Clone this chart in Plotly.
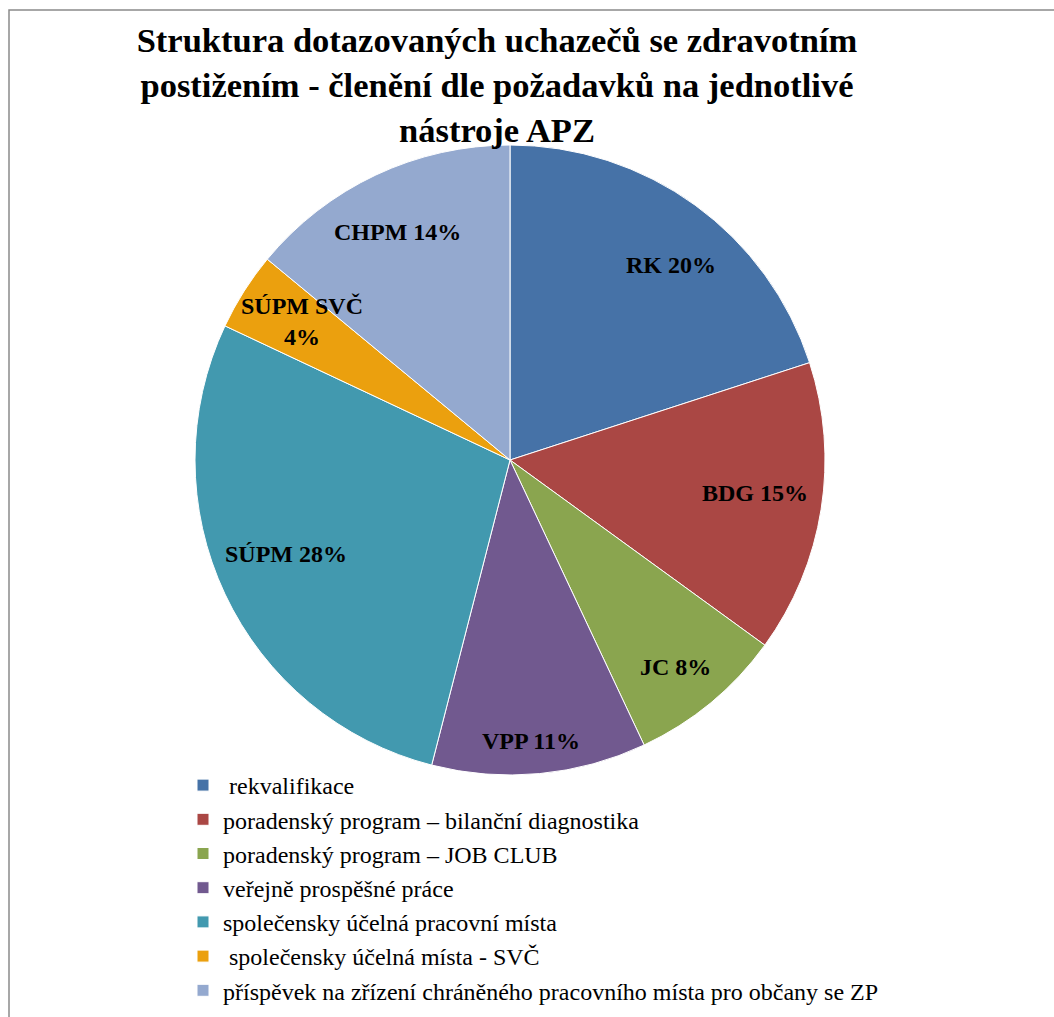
import math
import plotly.graph_objects as go

# Legend categories (full names) and short slice labels
categories = [
    "\u00a0rekvalifikace",
    "poradenský program – bilanční diagnostika",
    "poradenský program – JOB CLUB",
    "veřejně prospěšné práce",
    "společensky účelná pracovní místa",
    "\u00a0společensky účelná místa - SVČ",
    "příspěvek na zřízení chráněného pracovního místa pro občany se ZP",
]
short_labels = ["RK", "BDG", "JC", "VPP", "SÚPM", "SÚPM SVČ", "CHPM"]
shares = [20, 15, 8, 11, 28, 4, 14]

colors = ["#4672A7", "#AA4744", "#8AA54F", "#71598F", "#4299AF", "#EBA00E", "#94A9CF"]

W, H = 1054, 1017
# pie placement in pixels
CX, CY, R = 510, 460, 315
# label placement: radial distance (fraction of radius) and angular nudge (degrees)
label_r = [0.803, 0.784, 0.841, 0.895, 0.771, 0.794, 0.806]
label_dtheta = [3.5, -1.3, 0.9, 1.1, 2.4, 1.3, -1.0]
# slices whose label wraps onto two lines
label_wrap = [False, False, False, False, False, True, False]

fig = go.Figure()
fig.add_trace(go.Pie(
    labels=categories,
    values=shares,
    sort=False,
    direction="clockwise",
    rotation=0,
    marker=dict(colors=colors, line=dict(color="white", width=1)),
    textinfo="none",
    hoverinfo="label+percent",
    domain=dict(x=[(CX - R) / W, (CX + R) / W], y=[1 - (CY + R) / H, 1 - (CY - R) / H]),
))

# slice labels placed near the middle angle of each slice
total = sum(shares)
cum = 0
annotations = []
for name, val, fr, dth, wrap in zip(short_labels, shares, label_r, label_dtheta, label_wrap):
    mid = (cum + val / 2) / total * 2 * math.pi + math.radians(dth)
    cum += val
    px = CX + fr * R * math.sin(mid)
    py = CY - fr * R * math.cos(mid)
    pct = round(val / total * 100)
    sep = "<br>" if wrap else " "
    annotations.append(dict(
        x=px / W, y=1 - py / H, xref="paper", yref="paper",
        text=f"<b>{name}{sep}{pct}%</b>", showarrow=False,
        font=dict(family="Liberation Serif", size=24, color="black"),
        xanchor="center", yanchor="middle",
    ))

fig.update_layout(
    width=W, height=H,
    margin=dict(l=0, r=0, t=0, b=0),
    paper_bgcolor="white",
    plot_bgcolor="white",
    title=dict(
        text="<b>Struktura dotazovaných uchazečů se zdravotním<br>"
             "postižením - členění dle požadavků na jednotlivé<br>nástroje APZ</b>",
        x=497 / W, xanchor="center",
        y=1 - 52 / H, yanchor="middle",
        font=dict(family="Liberation Serif", size=34.5, color="black"),
    ),
    legend=dict(
        x=183 / W, xanchor="left",
        y=1 - 763 / H, yanchor="top",
        font=dict(family="Liberation Serif", size=24, color="black"),
        bgcolor="rgba(0,0,0,0)",
        traceorder="normal",
    ),
    annotations=annotations,
    shapes=[dict(
        type="rect", xref="paper", yref="paper",
        x0=9 / W, x1=1.02, y0=-0.02, y1=1 - 10 / H,
        line=dict(color="#8a8a8a", width=1.5),
        fillcolor="rgba(0,0,0,0)",
    )],
)

fig.write_html("out.html")
